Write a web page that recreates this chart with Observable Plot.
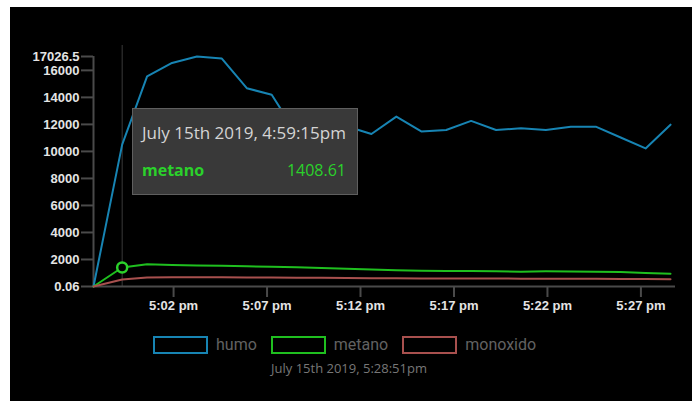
<!DOCTYPE html>
<html><head><meta charset="utf-8">
<script src="https://cdn.jsdelivr.net/npm/d3@7"></script>
<script src="https://cdn.jsdelivr.net/npm/@observablehq/plot@0.6"></script>
<style>
html,body{margin:0;padding:0;background:#fff;width:692px;height:401px;overflow:hidden;position:relative;}
#panel{position:absolute;left:10px;top:7px;right:0;bottom:0;background:#000;}
#chart{position:absolute;left:0;top:0;}
#tip{position:absolute;left:132px;top:108px;width:226px;height:87px;box-sizing:border-box;background:#393939;border:1px solid #5f5f5f;font-family:"Open Sans",Roboto,sans-serif;}
#tip .t{position:absolute;left:9px;top:12px;font-size:17px;color:#d4d4d4;white-space:nowrap;}
#tip .n{position:absolute;left:9px;top:50px;font-size:16px;font-weight:bold;white-space:nowrap;}
#tip .v{position:absolute;right:11px;top:50px;font-size:16px;white-space:nowrap;}
#legend{position:absolute;left:153px;top:336px;display:flex;align-items:center;font-family:Roboto,"Noto Sans",sans-serif;font-size:16px;color:#626262;}
#legend .sw{width:55px;height:18px;box-sizing:border-box;border:2px solid;margin-right:8px;}
#legend .lb{margin-right:14px;line-height:18px;}
#caption{position:absolute;left:229px;width:240px;top:359px;text-align:center;font-family:"Open Sans",Roboto,sans-serif;font-size:13px;color:#777;}
</style></head><body>
<div id="panel"></div>
<div id="chart"></div>
<div id="tip"></div>
<div id="legend"></div>
<div id="caption"></div>
<script>
const day = "2019-07-15";
const times = ["16:57:43","16:59:15","17:00:35","17:01:55","17:03:15","17:04:35","17:05:55","17:07:15",
  "17:08:35","17:09:55","17:11:15","17:12:35","17:13:55","17:15:15","17:16:35","17:17:55",
  "17:19:15","17:20:35","17:21:55","17:23:15","17:24:35","17:25:55","17:27:15","17:28:35"];
const humo = [0.06, 10500, 15550, 16550, 17026.5, 16870, 14680, 14190, 11300, 11500, 11860, 11290,
  12580, 11480, 11590, 12260, 11590, 11710, 11590, 11830, 11830, 11030, 10220, 11980];
const metano = [0.06, 1408.61, 1650, 1600, 1560, 1530, 1500, 1460, 1420, 1370, 1310, 1260,
  1210, 1170, 1150, 1140, 1120, 1100, 1120, 1110, 1100, 1080, 1000, 940];
const monoxido = [0.06, 520, 660, 690, 690, 680, 670, 660, 650, 640, 630, 620,
  610, 600, 600, 590, 590, 580, 580, 570, 570, 560, 550, 540];
const seriesNames = ["humo", "metano", "monoxido"];
const seriesColors = ["#1784b3", "#1fbf1f", "#a8504e"];
const yTicks = [0.06, 2000, 4000, 6000, 8000, 10000, 12000, 14000, 16000, 17026.5];
const xTickTimes = ["17:02:00","17:07:00","17:12:00","17:17:00","17:22:00","17:27:00"];
const lastUpdate = "17:28:51";
const hoverIndex = 1;
const hoverSeries = "metano";
const hoverColor = "#2bd12b";

const parse = d3.utcParse("%Y-%m-%d %H:%M:%S");
const dates = times.map(t => parse(day + " " + t));
const xEnd = parse(day + " " + lastUpdate);
const xStart = dates[0];
const valuesBy = {humo, metano, monoxido};
const data = seriesNames.flatMap(s => dates.map((d, i) => ({time: d, value: valuesBy[s][i], series: s})));
const yMin = yTicks[0], yMax = yTicks[yTicks.length - 1];
const hoverDate = dates[hoverIndex];
const hoverValue = valuesBy[hoverSeries][hoverIndex];
const tickFmt = d => d3.utcFormat("%-I:%M %p")(d).toLowerCase();
const longFmt = d => {
  const day = d.getUTCDate();
  const suf = (day % 10 === 1 && day !== 11) ? "st" : (day % 10 === 2 && day !== 12) ? "nd" : (day % 10 === 3 && day !== 13) ? "rd" : "th";
  return d3.utcFormat("%B ")(d) + day + suf + d3.utcFormat(" %Y, %-I:%M:%S")(d) + d3.utcFormat("%p")(d).toLowerCase();
};
const axisGray = "#4a4a4a";

const chart = Plot.plot({
  width: 692, height: 320,
  marginLeft: 93, marginRight: 17, marginTop: 45, marginBottom: 34,
  style: {background: "transparent", color: "#e4e4e4", fontFamily: "'Liberation Sans', Arial, sans-serif", fontSize: "13px", fontWeight: "bold"},
  x: {type: "utc", domain: [xStart, xEnd], label: null},
  y: {domain: [yMin, yMax], range: [286, 56], label: null},
  color: {domain: seriesNames, range: seriesColors},
  marks: [
    Plot.ruleX([hoverDate], {stroke: "#3a3a3a", strokeWidth: 1}),
    Plot.ruleX([xStart], {y1: yMin, y2: yMax, stroke: axisGray, strokeWidth: 2}),
    Plot.ruleY([yMin], {x1: xStart, x2: xEnd, stroke: axisGray, strokeWidth: 2}),
    Plot.axisX({ticks: xTickTimes.map(t => parse(day + " " + t)), tickFormat: tickFmt, tickSize: 11, tickPadding: 3, stroke: axisGray, strokeWidth: 2, fill: "#e4e4e4", label: null}),
    Plot.axisY({ticks: yTicks, tickFormat: d => String(d), tickSize: 12, tickPadding: 2, stroke: axisGray, strokeWidth: 2, fill: "#e4e4e4", label: null}),
    Plot.line(data, {x: "time", y: "value", z: "series", stroke: "series", strokeWidth: 2, strokeLinejoin: "round"}),
    Plot.dot([{time: hoverDate, value: hoverValue}], {x: "time", y: "value", r: 5, stroke: hoverColor, strokeWidth: 2.5, fill: "#000"})
  ]
});
document.getElementById("chart").appendChild(chart);

const tip = document.getElementById("tip");
tip.innerHTML = `<div class="t">${longFmt(hoverDate)}</div>` +
  `<div class="n" style="color:${hoverColor}">${hoverSeries}</div>` +
  `<div class="v" style="color:${hoverColor}">${hoverValue}</div>`;

const legend = document.getElementById("legend");
seriesNames.forEach((s, i) => {
  const sw = document.createElement("div"); sw.className = "sw"; sw.style.borderColor = seriesColors[i];
  const lb = document.createElement("div"); lb.className = "lb"; lb.textContent = s;
  legend.appendChild(sw); legend.appendChild(lb);
});
document.getElementById("caption").textContent = longFmt(xEnd);
</script>
</body></html>
